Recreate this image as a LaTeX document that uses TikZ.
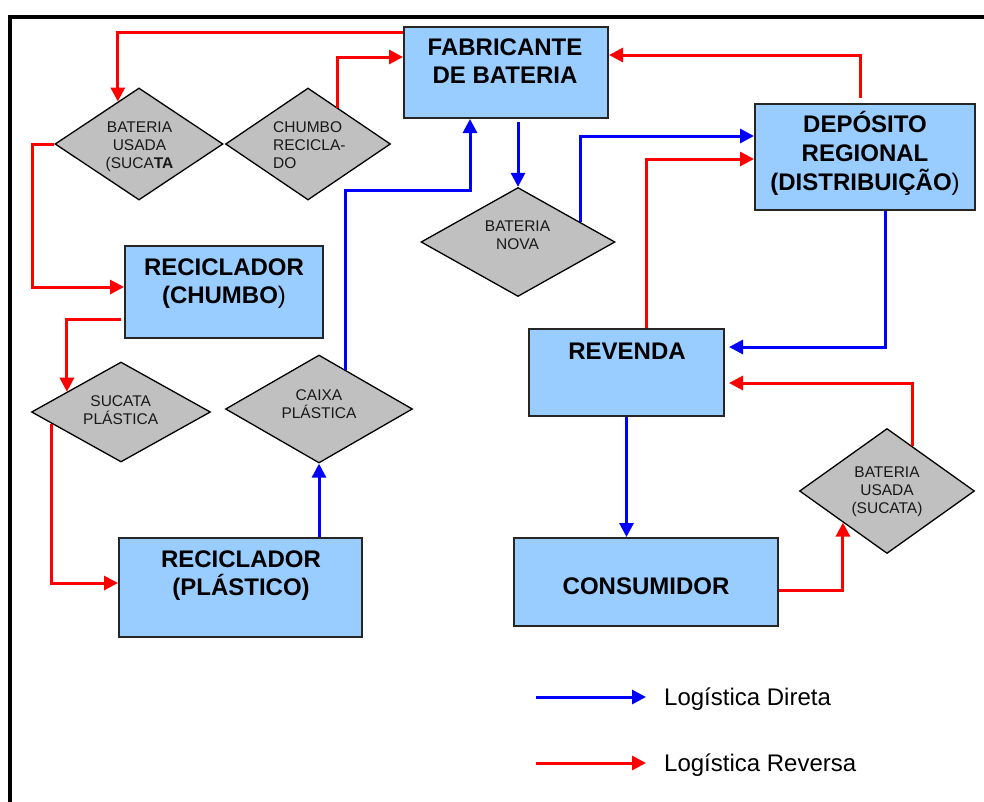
\documentclass[tikz,border=0pt]{standalone}
\usepackage{fontspec}
\setmainfont{Liberation Sans}
\usetikzlibrary{arrows.meta,shapes.geometric,calc}

\definecolor{boxblue}{HTML}{99CCFF}
\definecolor{diagray}{HTML}{C0C0C0}
\definecolor{dirblue}{HTML}{0000FF}
\definecolor{revred}{HTML}{FF0000}

% multi-line text nodes are placed by the baseline of their last line
\tikzset{
  box/.style={draw=black!85, line width=2pt, fill=boxblue, inner sep=0pt},
  dia/.style={diamond, draw=black, line width=1.3pt, fill=diagray, inner sep=0pt, aspect=1},
  boxtext/.style={inner sep=0pt, align=center, anchor=base, font=\bfseries\fontsize{24}{28}\selectfont},
  diatext/.style={inner sep=0pt, align=center, anchor=base, font=\fontsize{15.5}{18}\selectfont, text=black!90},
  legtext/.style={inner sep=0pt, anchor=base west, font=\fontsize{24}{28}\selectfont},
  flow/.style={line width=3pt, -{Triangle[length=14pt,width=14pt]}},
  dir/.style={flow, draw=dirblue, color=dirblue},
  rev/.style={flow, draw=revred, color=revred},
}

\begin{document}
\begin{tikzpicture}[x=1pt,y=-1pt]
\useasboundingbox (0,0) rectangle (984,801);
\clip (0,0) rectangle (984,801);

% outer frame (runs past the right and bottom edges)
\draw[line width=4pt, black] (10,17) rectangle (1010,830);

% ---- boxes ----
\node[box, minimum width=204pt, minimum height=91pt]  (fab) at (506,72.5) {};
\node[box, minimum width=220pt, minimum height=106pt] (dep) at (865,157) {};
\node[box, minimum width=198pt, minimum height=92pt]  (rch) at (224,292) {};
\node[box, minimum width=195pt, minimum height=87pt]  (rvd) at (626.5,372.5) {};
\node[box, minimum width=243pt, minimum height=99pt]  (rpl) at (240.5,587.5) {};
\node[box, minimum width=264pt, minimum height=88pt]  (con) at (646,582) {};

\node[boxtext] (fabT) at (505,83) {FABRICANTE\\DE BATERIA};
\node[boxtext, font=\bfseries\fontsize{24}{29}\selectfont] (depT) at (865,190)
  {DEPÓSITO\\REGIONAL\\(DISTRIBUIÇÃO{\mdseries)}};
\node[boxtext] (rchT) at (224,303) {RECICLADOR\\(CHUMBO{\mdseries)}};
\node[boxtext] (rvdT) at (627,359) {REVENDA};
\node[boxtext] (rplT) at (241,595) {RECICLADOR\\(PLÁSTICO)};
\node[boxtext] (conT) at (646,594) {CONSUMIDOR};

% ---- diamonds ----
\node[dia, minimum width=168pt, minimum height=112pt] (bu1) at (139,144) {};
\node[dia, minimum width=165pt, minimum height=112pt] (chr) at (308,144) {};
\node[dia, minimum width=194pt, minimum height=109pt] (bnv) at (518,242) {};
\node[dia, minimum width=179pt, minimum height=100pt] (spl) at (121,412) {};
\node[dia, minimum width=187pt, minimum height=108pt] (cpl) at (319,409) {};
\node[dia, minimum width=175pt, minimum height=125pt] (bu2) at (887,491) {};

\node[diatext] (bu1T) at (139.5,168.5) {BATERIA\\USADA\\(SUCA\textbf{TA}};
\node[diatext, align=left, anchor=base west] (chrT) at (273,168) {CHUMBO\\RECICLA-\\DO};
\node[diatext] (bnvT) at (517.5,249) {BATERIA\\NOVA};
\node[diatext] (splT) at (120.7,424) {SUCATA\\PLÁSTICA};
\node[diatext] (cplT) at (319,418.5) {CAIXA\\PLÁSTICA};
\node[diatext] (bu2T) at (887,513) {BATERIA\\USADA\\(SUCATA)};

% ---- bend points ----
\coordinate (jCaixa) at (470,190);
\coordinate (jSucata) at (32,144);

% ---- direct logistics (blue) ----
\draw[dir] ([yshift=-3pt]fab.south -| bnv.north) -- (bnv.north);
\draw[dir] ($(cpl.north)!0.28!(cpl.east)$) |- (jCaixa) -- (jCaixa |- fab.south);
\draw[dir] ($(bnv.north)!0.64!(bnv.east)$) |- ([yshift=21pt]dep.west);
\draw[dir] ([xshift=20pt]dep.south) |- ([xshift=4pt,yshift=25.5pt]rvd.east);
\draw[dir] (rvd.south) -- (rvd.south |- con.north);
\draw[dir] (cpl.south |- rpl.north) -- (cpl.south);

% ---- reverse logistics (red) ----
\draw[rev] ([yshift=-6pt]fab.north west) -| ($(bu1.north)!0.25!(bu1.west)$);
\draw[rev] ($(chr.north)!0.36!(chr.east)$) |- ([yshift=15.5pt]fab.west);
\draw[rev] ([xshift=-5pt,yshift=5pt]dep.north) |- ([yshift=17.5pt]fab.east);
\draw[rev] ([xshift=19.5pt]rvd.north) |- ([yshift=-2pt]dep.west);
\draw[rev] ($(bu2.north)!0.29!(bu2.east)$) |- ([xshift=4pt,yshift=-10.5pt]rvd.east);
\draw[rev] ([yshift=-8pt]con.east) -| ($(bu2.west)!0.5!(bu2.south)$);
\draw[rev] (bu1.west) -- (jSucata) |- ([yshift=5pt]rch.west);
\draw[rev] ([xshift=-3pt,yshift=-27pt]rch.west) -| ($(spl.north)!0.6!(spl.west)$);
\draw[rev] ($(spl.west)!0.23!(spl.south)$) |- ([yshift=4.5pt]rpl.west);

% ---- legend ----
\coordinate (lgDa) at (536,697);
\coordinate (lgDb) at (646,697);
\coordinate (lgRa) at (536,763);
\coordinate (lgRb) at (646,763);
\draw[dir] (lgDa) -- (lgDb);
\draw[rev] (lgRa) -- (lgRb);
\node[legtext] (lgDT) at (664,705) {Logística Direta};
\node[legtext] (lgRT) at (664,771) {Logística Reversa};
\end{tikzpicture}
\end{document}
